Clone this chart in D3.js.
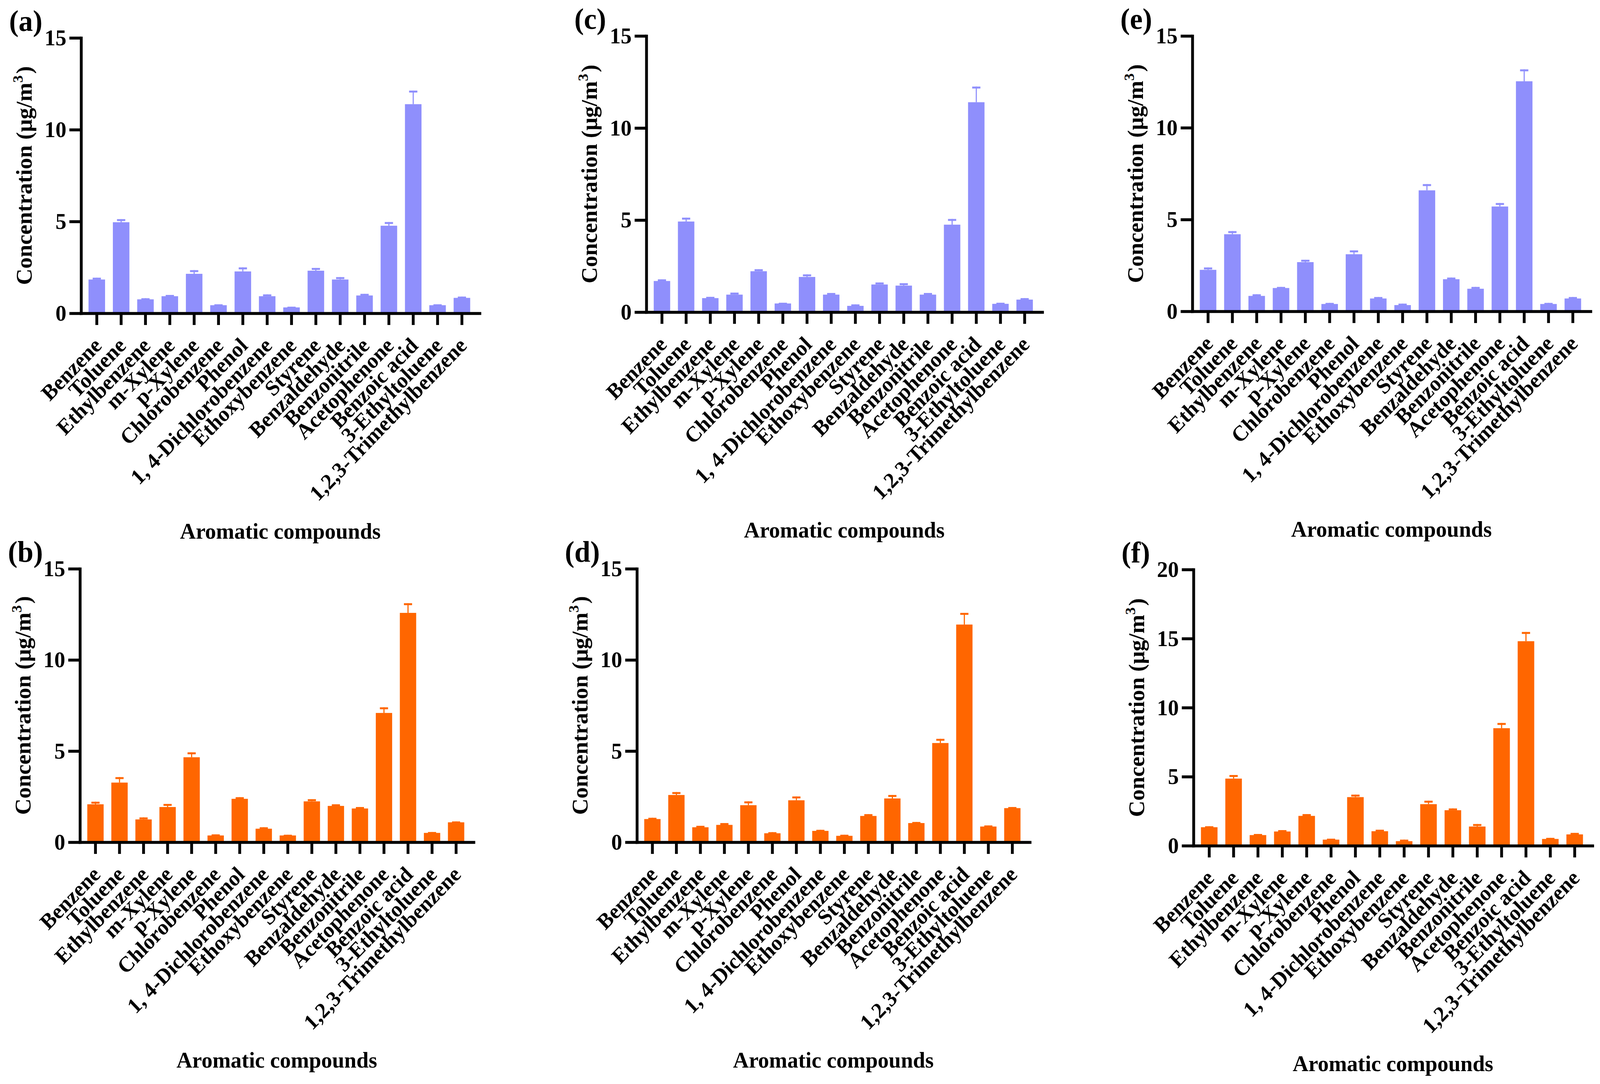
<!DOCTYPE html>
<html>
<head>
<meta charset="utf-8">
<script src="https://cdn.jsdelivr.net/npm/d3@7"></script>
<style>
    html, body { margin: 0; padding: 0; background: #fff; overflow: hidden; }
    svg { display: block; }
    text { font-family: "Liberation Serif", "Times New Roman", serif; font-weight: bold; }
</style>
</head>
<body>
<svg id="chart" viewBox="0 0 4243 2775" preserveAspectRatio="none"></svg>
<script>
const compounds = ['Benzene', 'Toluene', 'Ethylbenzene', 'm-Xylene', 'p-Xylene', 'Chlorobenzene',
    'Phenol', '1, 4-Dichlorobenzene', 'Ethoxybenzene', 'Styrene', 'Benzaldehyde', 'Benzonitrile',
    'Acetophenone', 'Benzoic acid', '3-Ethyltoluene', '1,2,3-Trimethylbenzene'];

const meanA = [1.84, 4.96, 0.76, 0.93, 2.15, 0.44, 2.28, 0.93, 0.32, 2.32, 1.84, 0.97, 4.77, 11.39, 0.44, 0.84];
const sdA   = [0.10, 0.17, 0.06, 0.07, 0.20, 0.05, 0.22, 0.10, 0.04, 0.15, 0.13, 0.09, 0.20, 0.74, 0.05, 0.07];

const meanB = [2.08, 3.27, 1.25, 1.93, 4.66, 0.37, 2.38, 0.74, 0.37, 2.24, 1.99, 1.85, 7.09, 12.58, 0.51, 1.09];
const sdB   = [0.14, 0.30, 0.11, 0.17, 0.27, 0.06, 0.09, 0.08, 0.04, 0.12, 0.09, 0.08, 0.31, 0.53, 0.05, 0.05];

const meanC = [1.69, 4.92, 0.76, 0.95, 2.22, 0.47, 1.91, 0.95, 0.34, 1.50, 1.44, 0.95, 4.75, 11.40, 0.45, 0.68];
const sdC   = [0.09, 0.21, 0.07, 0.11, 0.11, 0.04, 0.14, 0.09, 0.08, 0.11, 0.13, 0.09, 0.31, 0.85, 0.06, 0.08];

const meanD = [1.27, 2.59, 0.82, 0.95, 2.03, 0.49, 2.30, 0.62, 0.35, 1.44, 2.40, 1.05, 5.44, 11.94, 0.86, 1.87];
const sdD   = [0.07, 0.16, 0.08, 0.10, 0.21, 0.06, 0.21, 0.06, 0.06, 0.10, 0.19, 0.06, 0.23, 0.64, 0.06, 0.06];

const meanE = [2.26, 4.20, 0.84, 1.27, 2.68, 0.40, 3.11, 0.70, 0.34, 6.59, 1.75, 1.23, 5.71, 12.53, 0.40, 0.70];
const sdE   = [0.13, 0.17, 0.09, 0.06, 0.13, 0.06, 0.21, 0.08, 0.08, 0.34, 0.09, 0.10, 0.19, 0.65, 0.06, 0.08];

const meanF = [1.34, 4.86, 0.77, 1.03, 2.16, 0.44, 3.52, 1.05, 0.33, 3.01, 2.57, 1.39, 8.51, 14.81, 0.49, 0.82];
const sdF   = [0.07, 0.26, 0.08, 0.10, 0.13, 0.07, 0.18, 0.11, 0.11, 0.25, 0.13, 0.18, 0.38, 0.67, 0.08, 0.11];

const ticks15 = [0, 5, 10, 15];
const ticks20 = [0, 5, 10, 15, 20];

const xTitle = 'Aromatic compounds';

const purple = '#8f8ffc';
const orange = '#ff6600';

// where each panel sits on the page
const panels = [
    { label: '(a)', mean: meanA, sd: sdA, ticks: ticks15, color: purple, left: 215,  right: 1272, top: 97,   zero: 802 },
    { label: '(b)', mean: meanB, sd: sdB, ticks: ticks15, color: orange, left: 212,  right: 1256, top: 1456, zero: 2156 },
    { label: '(c)', mean: meanC, sd: sdC, ticks: ticks15, color: purple, left: 1714, right: 2764, top: 92,   zero: 799 },
    { label: '(d)', mean: meanD, sd: sdD, ticks: ticks15, color: orange, left: 1689, right: 2731, top: 1456, zero: 2156 },
    { label: '(e)', mean: meanE, sd: sdE, ticks: ticks15, color: purple, left: 3162, right: 4218, top: 92,   zero: 797 },
    { label: '(f)', mean: meanF, sd: sdF, ticks: ticks20, color: orange, left: 3165, right: 4223, top: 1458, zero: 2165 }
];

// the window may be narrower than the figure, so the viewBox scales it to fit
const svg = d3.select('#chart')
    .attr('width', window.innerWidth)
    .attr('height', window.innerHeight);
const lineW = 7.5;

panels.forEach(drawPanel);

function drawPanel(p) {
    let g = svg.append('g');

    let x = d3.scaleBand()
        .domain(compounds)
        .range([p.left, p.right])
        .paddingInner(0.32)
        .paddingOuter(0.3475)
        .align(0.44);

    let y = d3.scaleLinear()
        .domain([0, d3.max(p.ticks)])
        .range([p.zero, p.top]);

    let bw = x.bandwidth();
    let rows = compounds.map((c, i) => ({ name: c, mean: p.mean[i], sd: p.sd[i] }));

    // bars
    g.selectAll('rect.bar')
        .data(rows)
        .enter().append('rect')
        .attr('class', 'bar')
        .attr('x', d => x(d.name))
        .attr('y', d => y(d.mean))
        .attr('width', bw)
        .attr('height', d => p.zero - y(d.mean))
        .attr('fill', p.color);

    // one-sided error bars
    g.selectAll('line.stem')
        .data(rows)
        .enter().append('line')
        .attr('class', 'stem')
        .attr('x1', d => x(d.name) + bw / 2)
        .attr('x2', d => x(d.name) + bw / 2)
        .attr('y1', d => y(d.mean))
        .attr('y2', d => y(d.mean + d.sd))
        .attr('stroke', p.color)
        .attr('stroke-width', 3);

    g.selectAll('rect.cap')
        .data(rows)
        .enter().append('rect')
        .attr('class', 'cap')
        .attr('x', d => x(d.name) + bw / 4)
        .attr('y', d => y(d.mean + d.sd))
        .attr('width', bw / 2)
        .attr('height', 5)
        .attr('fill', p.color);

    // y axis
    let yAxis = g.append('g')
        .attr('transform', `translate(${p.left},0)`)
        .call(d3.axisLeft(y).tickValues(p.ticks).tickSize(31).tickSizeOuter(0).tickPadding(8));

    // x axis
    let xAxis = g.append('g')
        .attr('transform', `translate(0,${p.zero})`)
        .call(d3.axisBottom(x).tickSize(30).tickSizeOuter(0));

    [yAxis, xAxis].forEach(a => {
        a.attr('font-family', null).attr('font-size', null);
        a.select('.domain')
            .attr('stroke', '#000')
            .attr('stroke-width', lineW)
            .attr('stroke-linecap', 'square');
        a.selectAll('.tick line')
            .attr('stroke', '#000')
            .attr('stroke-width', lineW);
    });

    yAxis.selectAll('.tick text')
        .attr('fill', '#000')
        .style('font-size', '58px');

    xAxis.selectAll('.tick text')
        .attr('fill', '#000')
        .attr('x', 0)
        .attr('y', 0)
        .attr('dy', 0)
        .attr('transform', 'translate(16,86) rotate(-45)')
        .style('text-anchor', 'end')
        .style('font-size', '56px');

    // axis titles
    g.append('text')
        .attr('x', (p.left + p.right) / 2)
        .attr('y', p.zero + 577)
        .attr('text-anchor', 'middle')
        .style('font-size', '58px')
        .text(xTitle);

    let yt = g.append('text')
        .attr('transform', `translate(${p.left - 131},${(p.top + p.zero) / 2}) rotate(-90)`)
        .attr('text-anchor', 'middle')
        .style('font-size', '58px');
    yt.append('tspan').text('Concentration (μg/m');
    yt.append('tspan').attr('dy', -24).style('font-size', '38px').text('3');
    yt.append('tspan').attr('dy', 24).attr('dx', 4).text(')');

    // panel letter
    g.append('text')
        .attr('x', p.left - 191)
        .attr('y', p.top - 18)
        .style('font-size', '76px')
        .text(p.label);
}
</script>
</body>
</html>
